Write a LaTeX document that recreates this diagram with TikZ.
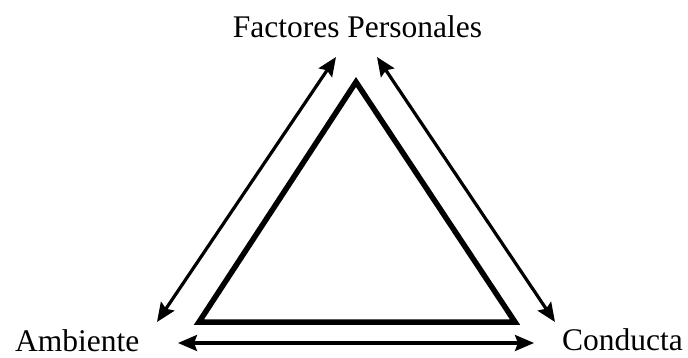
\documentclass[tikz,border=0pt]{standalone}
\usepackage{fontspec}
\setmainfont{Liberation Serif}
\usepackage{tikz}
\usetikzlibrary{arrows.meta, positioning}

\begin{document}
\begin{tikzpicture}[
  x=1pt, y=-1pt,
  factor/.style={inner sep=0pt, text depth=0pt, font=\fontsize{31.5}{36}\selectfont},
  tri/.style={line width=5.5pt, line join=miter},
  arr/.style={{Stealth[length=19pt, width=16pt, inset=3pt]}-{Stealth[length=19pt, width=16pt, inset=3pt]}, line width=3.2pt}
]
\useasboundingbox (0,0) rectangle (688,358);
% labels at the three corners
\node[factor, anchor=base] (pers) at (357.5,38) {Factores Personales};
\node[factor, anchor=base west] (amb) at (15,351) {Ambiente};
\node[factor, anchor=base west] (cond) at (562,350) {Conducta};
% thick triangle
\coordinate (top) at (356,82);
\coordinate (bl) at (199,322);
\coordinate (br) at (515,322);
\draw[tri] (top) -- (bl) -- (br) -- cycle;
% arrow ends
\coordinate (la) at (157,322);
\coordinate (lb) at (336,57);
\coordinate (ra) at (377,57);
\coordinate (rb) at (555,322);
\coordinate (ba) at (178,343);
\coordinate (bb) at (534,343);
\draw[arr] (la) -- (lb);
\draw[arr] (ra) -- (rb);
\draw[arr] (ba) -- (bb);
\end{tikzpicture}
\end{document}
